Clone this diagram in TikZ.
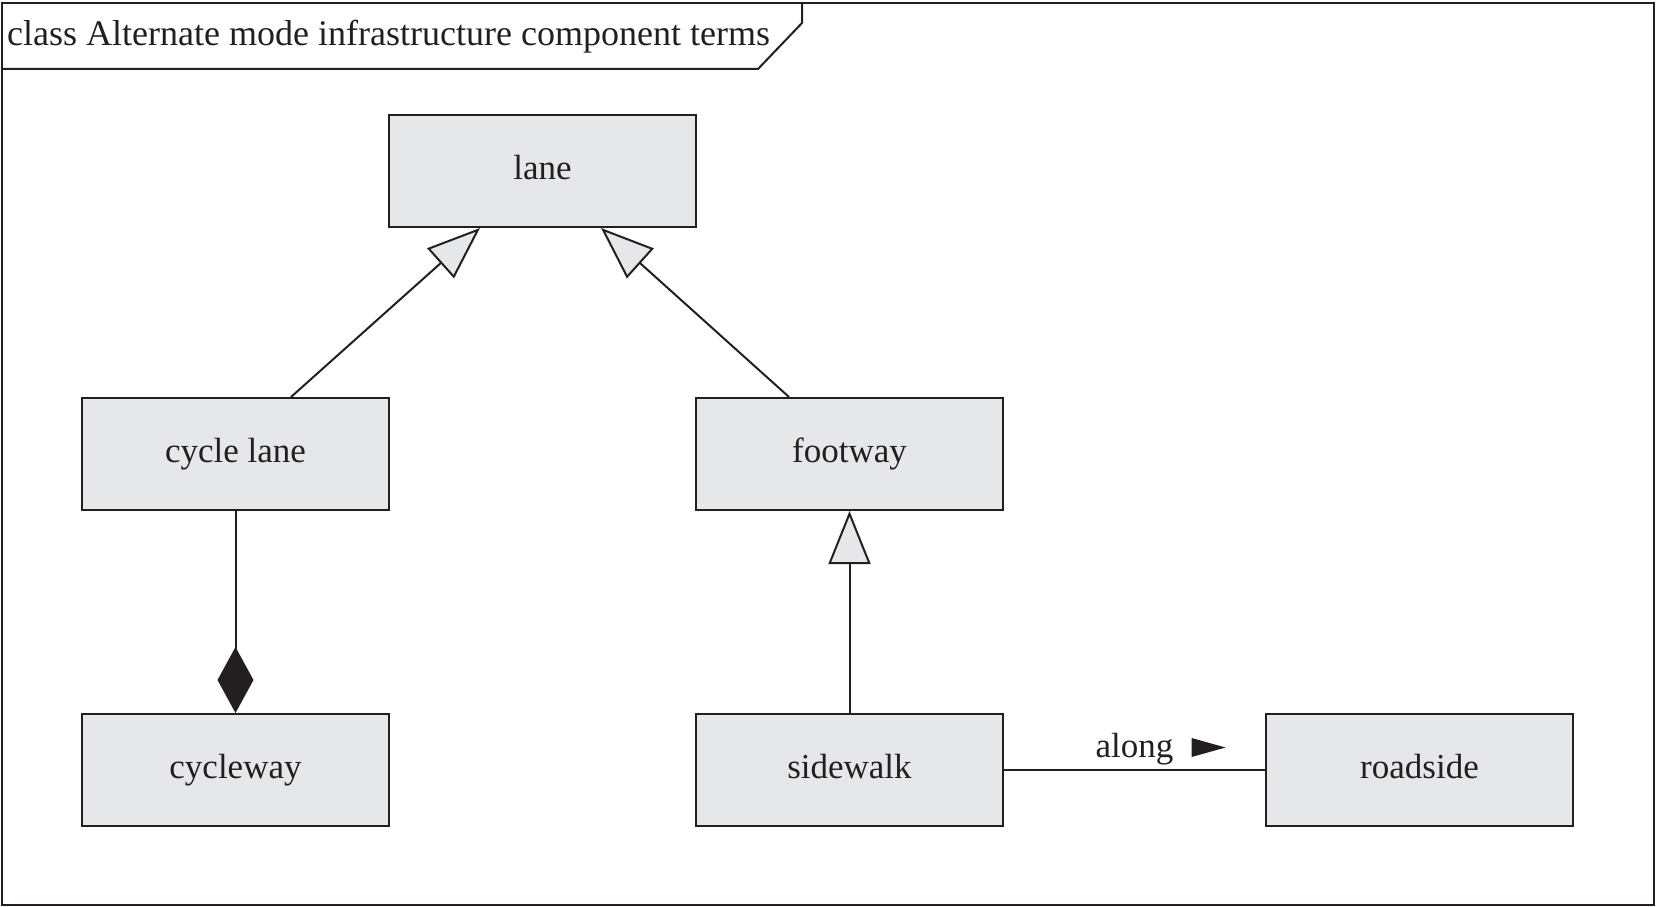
\documentclass[tikz,border=0pt]{standalone}
\usepackage{fontspec}
\setmainfont{Liberation Serif}
\usetikzlibrary{arrows.meta}
\definecolor{boxfill}{HTML}{E6E7E8}
\definecolor{ink}{HTML}{231F20}
\begin{document}
\begin{tikzpicture}[x=1pt,y=-1pt,
  cls/.style={draw=ink, fill=boxfill, line width=2pt, minimum width=307pt, minimum height=112pt,
    inner sep=0pt, font=\fontsize{35}{40}\selectfont, text=ink, text height=24pt, text depth=8pt},
  conn/.style={draw=ink, line width=2pt},
  gen/.style={conn, -{Triangle[length=53pt, width=40pt, fill=boxfill]}},
  comp/.style={conn, -{Diamond[length=66pt, width=36pt, fill=ink]}},
  lbl/.style={inner sep=0pt, font=\fontsize{35}{40}\selectfont, text=ink}
]
\useasboundingbox (0,0) rectangle (1657,907);
% frame
\draw[conn] (2,3) rectangle (1654,905);
\draw[conn] (2,69) -- (758,69) -- (802,23) -- (802,3);
\node[lbl, anchor=base west, font=\fontsize{36}{40}\selectfont] (title) at (7,46) {class Alternate mode infrastructure component terms};
% classes
\node[cls] (lane) at (542.5,171) {lane};
\node[cls] (cyclelane) at (235.5,454) {cycle lane};
\node[cls] (footway) at (849.5,454) {footway};
\node[cls] (cycleway) at (235.5,770) {cycleway};
\node[cls] (sidewalk) at (849.5,770) {sidewalk};
\node[cls] (roadside) at (1419.5,770) {roadside};
% connectors
\draw[gen] ([xshift=210pt]cyclelane.north west) -- ([xshift=92pt]lane.south west);
\draw[gen] ([xshift=94pt]footway.north west) -- ([xshift=213pt]lane.south west);
\draw[conn, -{Triangle[length=53pt, width=42pt, fill=boxfill]}] (sidewalk.north) -- (footway.south);
\draw[comp] (cyclelane.south) -- (cycleway.north);
\draw[conn] (sidewalk.east) -- (roadside.west);
\node[lbl, anchor=base] (along) at (1134.5,757) {along};
\fill[ink] ([xshift=18pt]along.base east) ++(0,-19) -- ++(34,9.5) -- ++(-34,9.5) -- cycle;
\end{tikzpicture}
\end{document}
